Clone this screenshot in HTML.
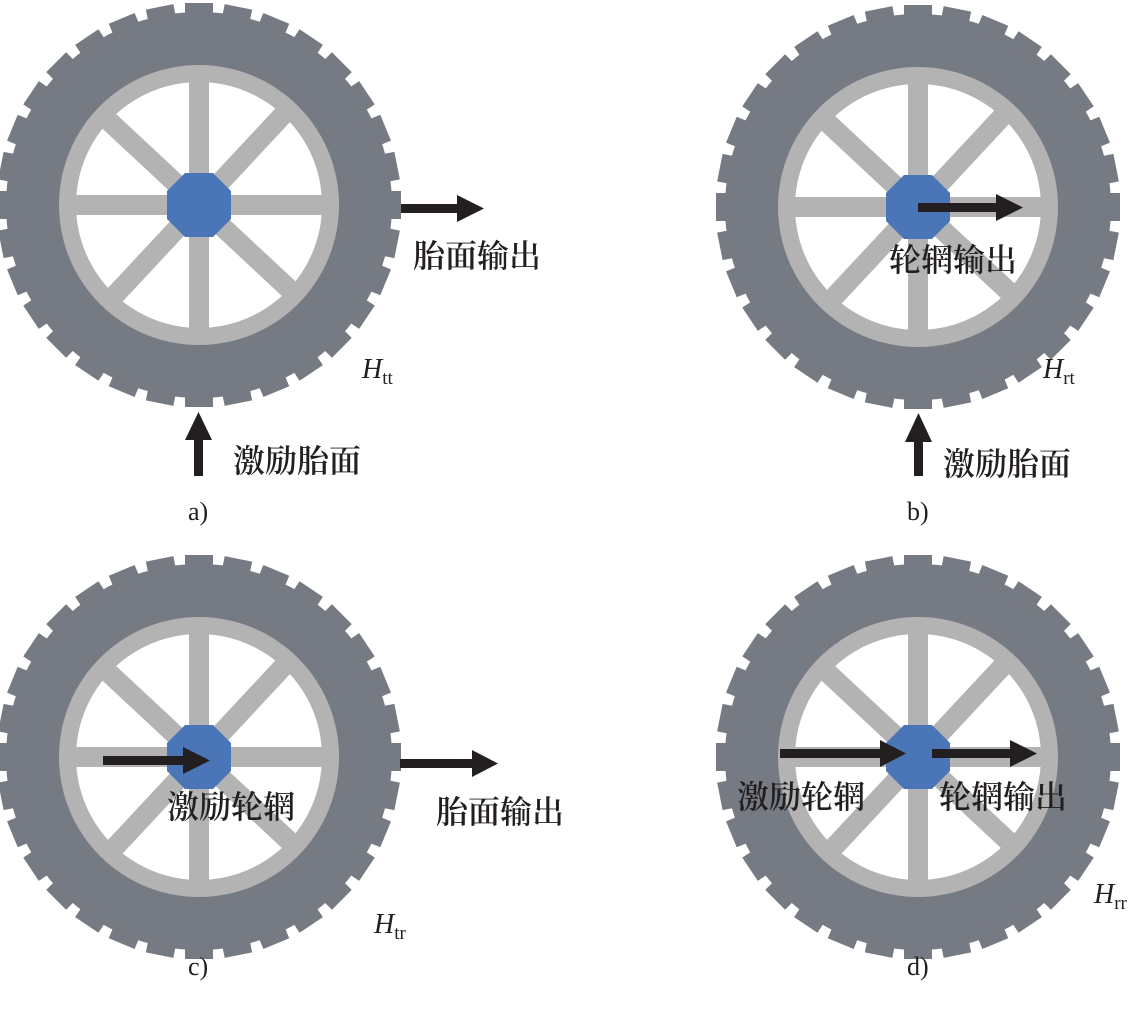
<!DOCTYPE html>
<html><head><meta charset="utf-8"><style>
html,body{margin:0;padding:0;background:#fff;}
svg{display:block;}
.cn{font-family:"Liberation Serif","Noto Serif CJK SC",serif;font-size:32px;font-weight:600;fill:#231f20;}
.lb{font-family:"Liberation Serif",serif;font-size:26px;fill:#231f20;}
.h{font-family:"Liberation Serif",serif;font-size:28px;font-style:italic;fill:#231f20;}
.s{font-family:"Liberation Serif",serif;font-size:19px;font-style:normal;}
</style></head><body>
<svg width="1134" height="1012" viewBox="0 0 1134 1012" xmlns="http://www.w3.org/2000/svg">
<defs>
<g id="tooth"><rect x="-14" y="-202" width="28" height="20" fill="#767a82"/></g>
<g id="wheel">
<circle r="193" fill="#767a82"/>
<g id="t8">
<use href="#tooth"/><use href="#tooth" transform="rotate(11.25)"/><use href="#tooth" transform="rotate(22.5)"/><use href="#tooth" transform="rotate(33.75)"/>
<use href="#tooth" transform="rotate(45)"/><use href="#tooth" transform="rotate(56.25)"/><use href="#tooth" transform="rotate(67.5)"/><use href="#tooth" transform="rotate(78.75)"/>
</g>
<use href="#t8" transform="rotate(90)"/><use href="#t8" transform="rotate(180)"/><use href="#t8" transform="rotate(270)"/>
<circle r="140" fill="#b3b3b3"/>
<circle r="123" fill="#fff"/>
<g fill="#b3b3b3">
<rect x="-10" y="-130" width="20" height="260"/>
<rect x="-130" y="-10" width="260" height="20"/>
<rect x="-10" y="-130" width="20" height="260" transform="rotate(43)"/>
<rect x="-10" y="-130" width="20" height="260" transform="rotate(-47)"/>
</g>
<polygon fill="#4a76b8" points="-14,-32 14,-32 32,-14 32,14 14,32 -14,32 -32,14 -32,-14"/>
</g>
</defs>

<use href="#wheel" transform="translate(199,205)"/>
<use href="#wheel" transform="translate(918,207)"/>
<use href="#wheel" transform="translate(199,757)"/>
<use href="#wheel" transform="translate(918,757)"/>

<g fill="#231f20">
<rect x="401" y="204" width="58" height="9"/><polygon points="457,195 484,208.5 457,222"/>
<rect x="194" y="438" width="9" height="38"/><polygon points="185,440 198.5,412 212,440"/>
<rect x="918" y="203" width="80" height="9"/><polygon points="996,194 1023,207.5 996,221"/>
<rect x="914" y="440" width="9" height="36"/><polygon points="905,442 918.5,413 932,442"/>
<rect x="103" y="756" width="82" height="9"/><polygon points="183,747 210,760.5 183,774"/>
<rect x="400" y="759" width="74" height="9"/><polygon points="472,750 498,763.5 472,777"/>
<rect x="780" y="749" width="102" height="9"/><polygon points="880,740 906,753.5 880,767"/>
<rect x="932" y="749" width="80" height="9"/><polygon points="1010,740 1037,753.5 1010,767"/>
</g>

<text class="cn" x="413" y="267">胎面输出</text>
<text class="cn" x="233" y="472">激励胎面</text>
<text class="lb" x="188" y="520">a)</text>
<text class="h" x="362" y="378">H<tspan class="s" dy="6">tt</tspan></text>

<text class="cn" x="889" y="271">轮辋输出</text>
<text class="cn" x="943" y="475">激励胎面</text>
<text class="lb" x="907" y="520">b)</text>
<text class="h" x="1043" y="378">H<tspan class="s" dy="6">rt</tspan></text>

<text class="cn" x="167" y="818">激励轮辋</text>
<text class="cn" x="436" y="823">胎面输出</text>
<text class="lb" x="188" y="975">c)</text>
<text class="h" x="374" y="933">H<tspan class="s" dy="6">tr</tspan></text>

<text class="cn" x="737" y="808">激励轮辋</text>
<text class="cn" x="939" y="808">轮辋输出</text>
<text class="lb" x="907" y="975">d)</text>
<text class="h" x="1094" y="903">H<tspan class="s" dy="6">rr</tspan></text>
</svg>
</body></html>
